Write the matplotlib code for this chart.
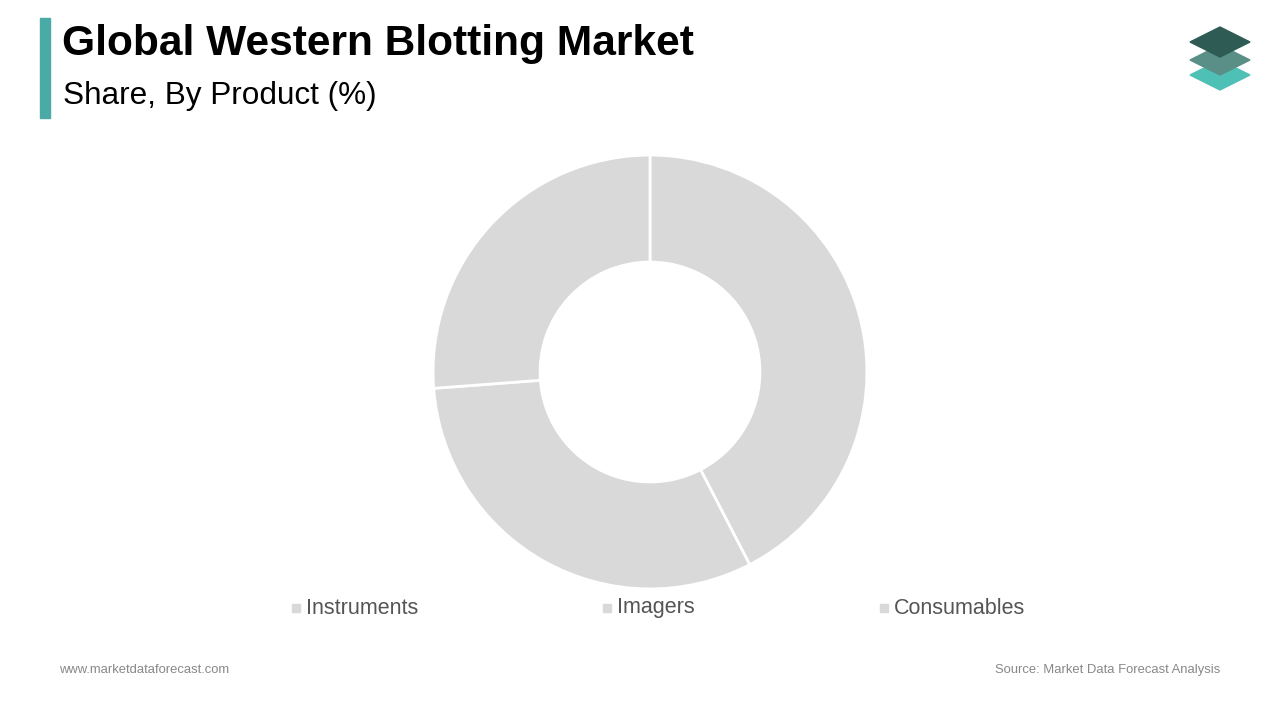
import matplotlib
matplotlib.use("Agg")
import matplotlib.pyplot as plt
from matplotlib.patches import Rectangle, Polygon

categories = ["Instruments", "Imagers", "Consumables"]
shares = [42.4, 31.4, 26.2]
colors = ["#d9d9d9", "#d9d9d9", "#d9d9d9"]

fig = plt.figure(figsize=(12.8, 7.2), dpi=100)
fig.patch.set_facecolor("white")

ax = fig.add_axes([(650-218)/1280, 1-(372+218)/720, 436/1280, 436/720])
ax.pie(shares, colors=colors, startangle=90, counterclock=False,
       wedgeprops=dict(width=107/217, edgecolor="white", linewidth=2))
ax.set_xlim(-1.005, 1.005)
ax.set_ylim(-1.005, 1.005)
ax.set_aspect("equal")
ax.axis("off")

fig.add_artist(Rectangle((40/1280, 1-118/720), 10/1280, 100/720, color="#4aaaa5", transform=fig.transFigure))
fig.text(62/1280, 1-44/720, "Global Western Blotting Market", fontsize=30.6, fontweight="bold", va="center", family="Liberation Sans")
fig.text(63/1280, 1-96/720, "Share, By Product (%)", fontsize=22.7, va="center", family="Liberation Sans")

lx = [296, 607, 884]
for x, c, col in zip(lx, categories, colors):
    fig.add_artist(Rectangle(((x-4)/1280, 1-612/720), 8/1280, 8/720, color=col, transform=fig.transFigure))
    fig.text((x+10)/1280, 1-608/720, c, fontsize=15.5, color="#555555", va="center", family="Liberation Sans")

fig.text(59/1280, 1-670/720, "www.marketdataforecast.com", fontsize=9.4, color="#888888", va="center", family="Liberation Sans")
fig.text(1220/1280, 1-670/720, "Source: Market Data Forecast Analysis", fontsize=9.4, color="#888888", va="center", ha="right", family="Liberation Sans")

def dia(cy, col):
    pts = [(1190, cy), (1220, cy-15), (1250, cy), (1220, cy+15)]
    fig.add_artist(Polygon([(x/1280, 1-y/720) for x, y in pts], closed=True, color=col, transform=fig.transFigure))
dia(75, "#4fc0b5")
dia(60, "#5a8f88")
dia(42, "#2f5b55")

fig.savefig("out.png", dpi=100)
